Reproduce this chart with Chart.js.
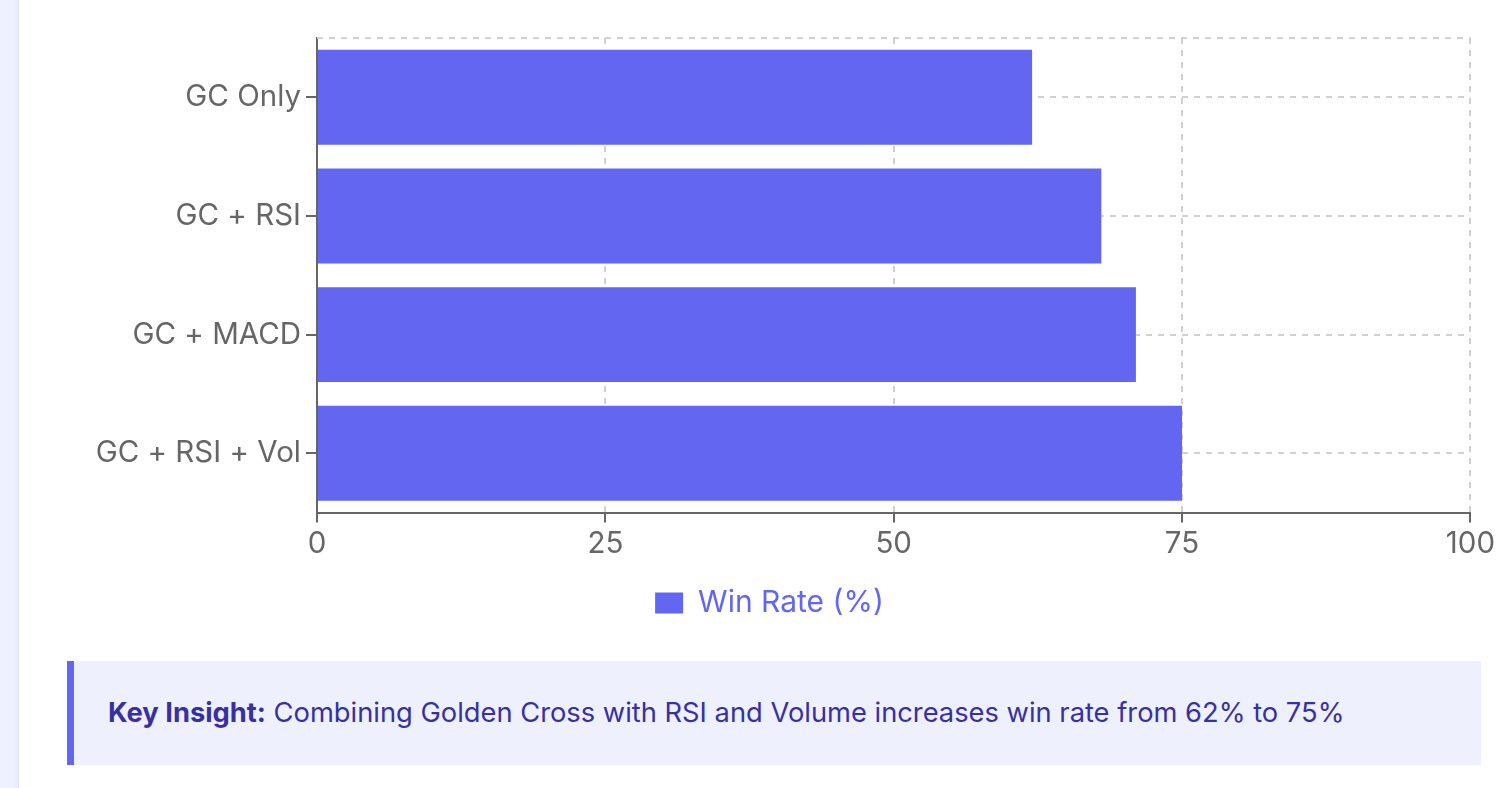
<!DOCTYPE html>
<html>
<head>
<meta charset="utf-8">
<script src="https://cdn.jsdelivr.net/npm/chart.js@4.4.1/dist/chart.umd.min.js"></script>
<style>
  html, body { margin: 0; padding: 0; width: 1509px; height: 788px; overflow: hidden; background: #eef2ff; font-family: Inter, "Noto Sans", sans-serif; }
  #card { position: absolute; left: 19px; top: -20px; width: 1510px; height: 830px; background: #ffffff; box-shadow: 0 0 6px rgba(60,70,140,0.12); }
  #wrap { position: absolute; left: 40px; top: 0px; width: 1459px; height: 628px; }
  #insight { position: absolute; left: 67px; top: 661px; width: 1414px; height: 104px; box-sizing: border-box; background: #eef0fe; border-left: 7px solid #6366f1; color: #3730a3; font-size: 27.3px; line-height: 104px; padding-left: 34px; white-space: nowrap; }
  #insight b { font-weight: 700; }
</style>
</head>
<body>
<div id="card"></div>
<div id="wrap"><canvas id="c"></canvas></div>
<div id="insight"><b>Key Insight:</b> Combining Golden Cross with RSI and Volume increases win rate from 62% to 75%</div>
<script>
const categories = ["GC Only", "GC + RSI", "GC + MACD", "GC + RSI + Vol"];
const winRate = [62, 68, 71, 75];
const seriesLabel = "Win Rate (%)";
const xTicks = [0, 25, 50, 75, 100];

Chart.defaults.font.family = 'Inter, "Noto Sans", sans-serif';
Chart.defaults.color = '#666';

const GRID = '#d0d0d0';
const DASH = [6, 6];

const topLine = {
  id: 'topLine',
  beforeDatasetsDraw(chart) {
    const {ctx, chartArea} = chart;
    ctx.save();
    ctx.strokeStyle = GRID;
    ctx.lineWidth = 2;
    ctx.setLineDash(DASH);
    ctx.beginPath();
    ctx.moveTo(chartArea.left, chartArea.top);
    ctx.lineTo(chartArea.right, chartArea.top);
    ctx.stroke();
    ctx.restore();
  }
};

new Chart(document.getElementById('c'), {
  type: 'bar',
  data: {
    labels: categories,
    datasets: [{
      label: seriesLabel,
      data: winRate,
      backgroundColor: '#6366f1',
      borderWidth: 0,
      barPercentage: 0.8,
      categoryPercentage: 1.0
    }]
  },
  options: {
    indexAxis: 'y',
    responsive: true,
    maintainAspectRatio: false,
    animation: false,
    layout: { padding: { top: 38, left: 0, right: 0, bottom: 0 } },
    plugins: {
      tooltip: { enabled: false },
      legend: {
        position: 'bottom',
        labels: {
          color: '#6366f1',
          font: { size: 30 },
          boxWidth: 28,
          boxHeight: 21,
          padding: 10
        }
      }
    },
    scales: {
      x: {
        min: 0, max: 100,
        afterBuildTicks(scale) { scale.ticks = xTicks.map(v => ({ value: v })); },
        afterFit(scale) { scale.height += 12; },
        ticks: { color: '#666', font: { size: 29.5 }, padding: 4 },
        grid: { color: GRID, lineWidth: 2, tickColor: '#666', tickWidth: 2, tickLength: 10, tickBorderDash: [] },
        border: { display: true, color: '#666', width: 2, dash: DASH }
      },
      y: {
        afterFit(scale) { scale.width = 277; },
        ticks: { color: '#666', font: { size: 29.5 }, padding: 5 },
        grid: { offset: false, color: GRID, lineWidth: 2, tickColor: '#666', tickWidth: 2, tickLength: 11, tickBorderDash: [] },
        border: { display: true, color: '#666', width: 2, dash: DASH }
      }
    }
  },
  plugins: [topLine]
});
</script>
</body>
</html>
